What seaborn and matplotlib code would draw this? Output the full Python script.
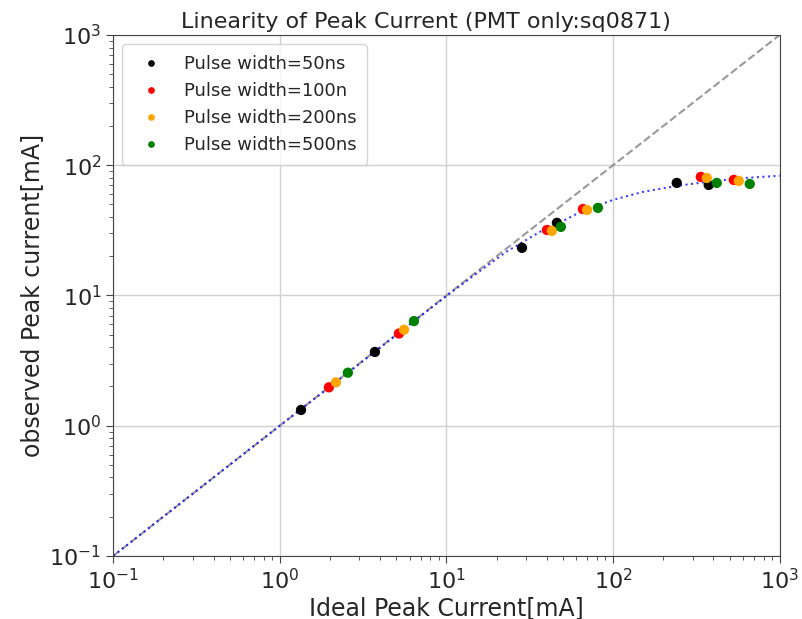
import numpy as np
import pandas as pd
import matplotlib
matplotlib.use("Agg")
import matplotlib.pyplot as plt
import seaborn as sns

labels = ["Pulse width=50ns", "Pulse width=100n", "Pulse width=200ns", "Pulse width=500ns"]
colors = ["black", "red", "orange", "green"]

ideal_50 = [1.34, 3.72, 28.4, 46.0, 241, 375]
obs_50 = [1.32, 3.68, 23.2, 36.1, 73.1, 70.5]
ideal_100 = [1.97, 5.19, 40.1, 65.9, 336, 530]
obs_100 = [1.97, 5.10, 31.8, 46.1, 81.3, 77.1]
ideal_200 = [2.17, 5.56, 42.9, 69.7, 365, 568]
obs_200 = [2.15, 5.45, 31.3, 45.3, 79.8, 75.7]
ideal_500 = [2.56, 6.38, 48.6, 81.1, 419, 661]
obs_500 = [2.55, 6.35, 33.6, 47.0, 73.1, 71.8]

fit_x = [0.1, 1.0, 10.0, 15.0, 23.1, 36.4, 48.0, 63.2, 99.7, 151, 241, 380, 600, 1000]
fit_y = [0.1, 1.0, 9.9, 14.6, 21.8, 30.8, 36.3, 43.5, 54.1, 62.4, 69.4, 74.8, 79.6, 83.0]

diag = [0.1, 1000]

frames = []
for lab, xs, ys in zip(labels, [ideal_50, ideal_100, ideal_200, ideal_500],
                       [obs_50, obs_100, obs_200, obs_500]):
    frames.append(pd.DataFrame({"ideal": xs, "obs": ys, "width": lab}))
df = pd.concat(frames, ignore_index=True)

sns.set_style("ticks")
plt.rcParams['font.family'] = ['DejaVu Sans']

fig = plt.figure(figsize=(8.03, 6.19), dpi=100)
ax = fig.add_axes([0.141, 0.102, 0.830, 0.8415])

ax.plot(diag, diag, color="gray", linestyle="--", linewidth=1.5, alpha=0.8, zorder=1)
ax.plot(fit_x, fit_y, color="blue", linestyle=":", linewidth=1.5, alpha=0.75, zorder=2)

sns.scatterplot(data=df, x="ideal", y="obs", hue="width", hue_order=labels,
                palette=colors, s=55, edgecolor="none", ax=ax, zorder=3)

ax.set_xscale("log")
ax.set_yscale("log")
ax.set_xlim(0.1, 1000)
ax.set_ylim(0.1, 1000)
ax.grid(True, which="major", color="#d0d0d0", linewidth=1)
for sp in ax.spines.values():
    sp.set_visible(True)
    sp.set_color("#444444")
ax.tick_params(axis="both", which="major", labelsize=16, length=5, color="#444444")
ax.tick_params(axis="both", which="minor", length=3, color="#444444")

ax.set_xlabel("Ideal Peak Current[mA]", fontsize=17, labelpad=2)
ax.set_ylabel("observed Peak current[mA]", fontsize=17, labelpad=4)
ax.set_title("Linearity of Peak Current (PMT only:sq0871)", fontsize=16, pad=5, x=0.469)

leg = ax.legend(loc="upper left", fontsize=13, title=None, frameon=True,
                markerscale=0.65, borderpad=0.6, labelspacing=0.5, handletextpad=0.8)

fig.savefig("out.png", dpi=100)
